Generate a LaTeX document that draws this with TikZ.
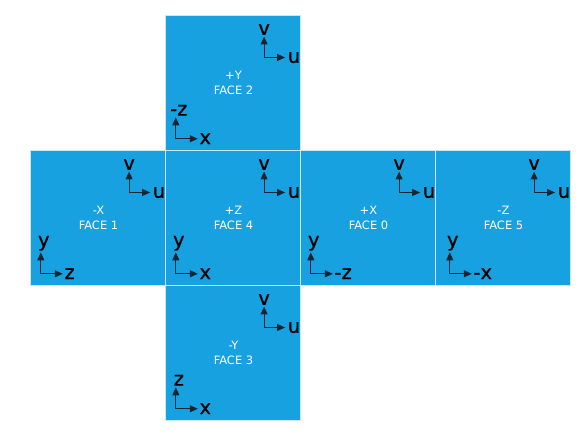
\documentclass[tikz,border=0pt]{standalone}
\usepackage{fontspec}
\setmainfont{DejaVu Sans}
\newfontfamily\axisfont[FakeBold=0.8]{DejaVu Sans}
\usetikzlibrary{arrows.meta}

\definecolor{facebg}{RGB}{24,161,224}
\definecolor{faceedge}{RGB}{200,232,246}
\definecolor{axisline}{RGB}{20,38,52}

\begin{document}
\begin{tikzpicture}[x=1pt,y=-1pt,
        face/.style={fill=facebg,draw=faceedge,line width=1pt},
        axis/.style={draw=axisline,line width=1pt,-{Triangle[length=8pt,width=7pt]}},
        facetext/.style={text=white,font=\fontsize{11.5}{15}\selectfont,align=center},
        axislabel/.style={font=\axisfont\fontsize{19.5}{19.5}\selectfont,inner sep=1.5pt}]
    \useasboundingbox (0,0) rectangle (587,435);

    % the six faces of the cube, unfolded
    \foreach \name/\c/\r/\sgn/\num/\vl/\hl/\dx in
        {f2/1/0/+Y/2/-z/x/0, f1/0/1/-X/1/y/z/0, f4/1/1/+Z/4/y/x/0,
         f0/2/1/+X/0/y/-z/0, f5/3/1/-Z/5/y/-x/4, f3/1/2/-Y/3/z/x/0} {
        \coordinate (\name) at (30.5+135*\c, 15.5+135*\r);
        \draw[face] (\name) rectangle ++(135,135);
        \node[facetext] (\name-t) at ([shift={(68,67)}]\name) {\sgn\\FACE \num};

        % u,v axes (top right)
        \coordinate (\name-o) at ([shift={(98.6,42)}]\name);
        \coordinate (\name-v) at ([shift={(0,-21)}]\name-o);
        \coordinate (\name-u) at ([shift={(21,0)}]\name-o);
        \draw[axis] (\name-o) to (\name-v);
        \draw[axis] (\name-o) to (\name-u);
        \node[axislabel,above] (\name-vt) at (\name-v) {v};
        \node[axislabel,right,inner sep=2.5pt] (\name-ut) at (\name-u) {u};

        % world axes (bottom left)
        \coordinate (\name-p) at ([shift={(10.3+\dx,123.3)}]\name);
        \coordinate (\name-a) at ([shift={(0,-21.5)}]\name-p);
        \coordinate (\name-b) at ([shift={(22,0)}]\name-p);
        \draw[axis] (\name-p) to (\name-a);
        \draw[axis] (\name-p) to (\name-b);
        \node[axislabel,above,xshift=3pt] (\name-at) at (\name-a) {\vl};
        \node[axislabel,right] (\name-bt) at (\name-b) {\hl};
    }
\end{tikzpicture}
\end{document}
